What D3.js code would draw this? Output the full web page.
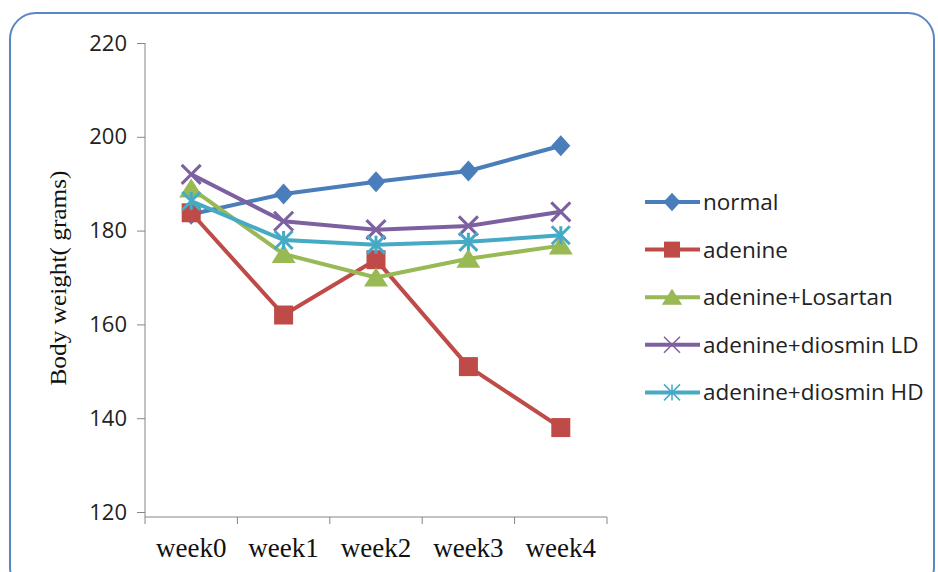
<!DOCTYPE html>
<html><head><meta charset="utf-8">
<script src="https://cdn.jsdelivr.net/npm/d3@7"></script>
<style>html,body{margin:0;padding:0;background:#fff;}svg{display:block;}</style>
</head><body>
<svg id="c" width="938" height="572"></svg>
<script>
const categories = ["week0","week1","week2","week3","week4"];
const seriesNames = ["normal","adenine","adenine+Losartan","adenine+diosmin LD","adenine+diosmin HD"];
const normal   = [183.5, 187.8, 190.4, 192.7, 198.1];
const adenine  = [183.8, 162.0, 173.8, 151.0, 138.0];
const losartan = [189.0, 175.0, 170.0, 174.0, 176.8];
const diosLD   = [192.0, 182.0, 180.2, 181.0, 184.0];
const diosHD   = [186.3, 178.0, 177.0, 177.6, 179.0];
const yTicks = [120,140,160,180,200,220];
const colors = ["#4a7ebb","#be4b48","#98b954","#7d60a0","#46aac5"];
const markers = ["diamond","square","triangle","x","star"];
const allSeries = [normal, adenine, losartan, diosLD, diosHD];

const svg = d3.select("#c");
// frame
svg.append("rect").attr("x",10).attr("y",13).attr("width",924).attr("height",580)
  .attr("rx",26).attr("ry",26).attr("fill","#fff").attr("stroke","#5b86c5").attr("stroke-width",2);

const x = d3.scaleBand().domain(categories).range([145,607]);
const y = d3.scaleLinear().domain([120,220]).range([512,43]);

// y axis
const yAxis = d3.axisLeft(y).tickValues(yTicks).tickSize(8).tickPadding(10);
const gy = svg.append("g").attr("transform","translate(145,0)").call(yAxis);
gy.select(".domain").attr("stroke","#868686").attr("d","M0,43V517");
gy.selectAll(".tick line").attr("stroke","#868686");
gy.selectAll("text").attr("font-family","'Open Sans', 'Noto Sans', sans-serif").attr("font-size",22).attr("fill","#222");

// x axis
const gx = svg.append("g").attr("transform","translate(0,517)");
gx.append("line").attr("x1",145).attr("x2",607).attr("stroke","#868686");
gx.selectAll("line.t").data(categories.concat(["end"])).join("line").attr("class","t")
  .attr("x1",(d,i)=> i<categories.length ? x(d) : x(categories[categories.length-1])+x.bandwidth())
  .attr("x2",(d,i)=> i<categories.length ? x(d) : x(categories[categories.length-1])+x.bandwidth())
  .attr("y1",0).attr("y2",7).attr("stroke","#868686");
gx.selectAll("text").data(categories).join("text")
  .attr("x",d=>x(d)+x.bandwidth()/2).attr("y",40).attr("text-anchor","middle")
  .attr("font-family","'Liberation Serif', 'Times New Roman', serif").attr("font-size",27).attr("fill","#111")
  .text(d=>d);

// y title
svg.append("text").attr("transform","translate(66,278) rotate(-90)").attr("text-anchor","middle")
  .attr("font-family","'Liberation Serif', 'Times New Roman', serif").attr("font-size",23).attr("fill","#111")
  .attr("textLength",215).attr("lengthAdjust","spacingAndGlyphs")
  .text("Body weight( grams)");

function drawMarker(g, type, color, cx, cy, s, sw) {
  if (type==="diamond") {
    g.append("path").attr("d",`M${cx},${cy-s*0.55}L${cx+s*0.5},${cy}L${cx},${cy+s*0.55}L${cx-s*0.5},${cy}Z`).attr("fill",color);
  } else if (type==="square") {
    g.append("rect").attr("x",cx-s/2).attr("y",cy-s/2).attr("width",s).attr("height",s).attr("fill",color);
  } else if (type==="triangle") {
    g.append("path").attr("d",`M${cx},${cy-s*0.5}L${cx+s*0.6},${cy+s*0.45}L${cx-s*0.6},${cy+s*0.45}Z`).attr("fill",color);
  } else if (type==="x") {
    const h=s*0.5;
    g.append("path").attr("d",`M${cx-h},${cy-h}L${cx+h},${cy+h}M${cx-h},${cy+h}L${cx+h},${cy-h}`).attr("stroke",color).attr("stroke-width",sw).attr("fill","none");
  } else if (type==="star") {
    const h=s*0.5;
    g.append("path").attr("d",`M${cx-h},${cy-h}L${cx+h},${cy+h}M${cx-h},${cy+h}L${cx+h},${cy-h}M${cx},${cy-h}L${cx},${cy+h}`).attr("stroke",color).attr("stroke-width",sw).attr("fill","none");
  }
}

const line = d3.line().x((d,i)=>x(categories[i])+x.bandwidth()/2).y(d=>y(d));
const plot = svg.append("g");
const plotSizes = [19, 19, 20, 19, 18];
allSeries.forEach((s,k)=>{
  const g = plot.append("g");
  g.append("path").datum(s).attr("d",line).attr("fill","none").attr("stroke",colors[k]).attr("stroke-width",4).attr("stroke-linejoin","round");
  s.forEach((v,i)=>drawMarker(g, markers[k], colors[k], x(categories[i])+x.bandwidth()/2, y(v), plotSizes[k], 3));
});

// legend
const leg = svg.append("g");
const legSizes = [17, 16, 17, 16, 16];
seriesNames.forEach((n,k)=>{
  const yy = 202 + k*47.6;
  const g = leg.append("g");
  g.append("line").attr("x1",645).attr("x2",700).attr("y1",yy).attr("y2",yy).attr("stroke",colors[k]).attr("stroke-width",4);
  drawMarker(g, markers[k], colors[k], 672, yy, legSizes[k], 1.5);
  g.append("text").attr("x",703).attr("y",yy+8).attr("font-family","'Open Sans', 'Noto Sans', sans-serif")
    .attr("font-size",22.5).attr("fill","#222").text(n);
});
</script>
</body></html>
